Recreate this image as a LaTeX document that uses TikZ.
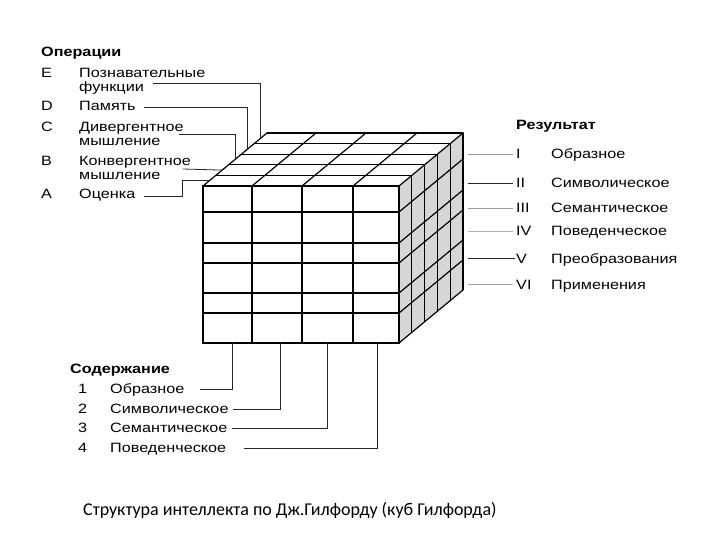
\documentclass[tikz,border=0pt]{standalone}
\usepackage{fontspec}
\setmainfont{Liberation Sans}[FakeStretch=1.2]
\newfontfamily\capfont{Carlito}
\usepackage{xcolor}
\usepackage{tikz}
\definecolor{cubeGray}{HTML}{D6D6D6}
\definecolor{leadGray}{HTML}{9C9C9C}
\usetikzlibrary{calc}

\begin{document}
\begin{tikzpicture}[x=1pt, y=-1pt,
  lbl/.style={anchor=base west, inner sep=0pt, font=\fontsize{13.5}{15}\selectfont},
  hdr/.style={lbl, font=\fontsize{13.5}{15}\selectfont\bfseries},
  edge/.style={line width=1.2pt, line cap=round},
  lead/.style={line width=0.8pt, black!85},
  glead/.style={line width=0.8pt, leadGray}]
\useasboundingbox (0,0) rectangle (720,540);

% cube corners
\coordinate (ftl) at (203,186);
\coordinate (btl) at (267,133);
% right face, grey
\fill[cubeGray] (399,186) -- (463,133) -- (463,290) -- (399,343) -- cycle;
% front face
\draw[edge] (ftl) rectangle (399,343);
\foreach \x in {252,302,353} \draw[edge] (\x,186) -- (\x,343);
\foreach \y in {212,243,263,293,313} \draw[edge] (203,\y) -- (399,\y);
% top face
\foreach \k in {1,...,5} \draw[edge] (203+12.8*\k,186-10.6*\k) -- (399+12.8*\k,186-10.6*\k);
\foreach \x in {203,252,302,353,399} \draw[edge] (\x,186) -- (\x+64,133);
% right face
\foreach \k in {1,...,5} \draw[edge] (399+12.8*\k,186-10.6*\k) -- (399+12.8*\k,343-10.6*\k);
\foreach \y in {212,243,263,293,313,343} \draw[edge] (399,\y) -- (463,\y-53);

% leader ends on the cube
\coordinate (lA) at ($(ftl)!.1!(btl)$);
\coordinate (lB) at ($(ftl)!.3!(btl)$);
\coordinate (lC) at ($(ftl)!.5!(btl)$);
\coordinate (lD) at ($(ftl)!.7!(btl)$);
\coordinate (lE) at ($(ftl)!.9!(btl)$);
\coordinate (b1) at (232,343);
\coordinate (b2) at (280,343);
\coordinate (b3) at (327,343);
\coordinate (b4) at (377,343);

% operations
\node[hdr] (opH) at (41,57) {Операции};
\node[lbl] (kE) at (41,78) {E};
\node[lbl] (opE) at (79,78) {Познавательные};
\node[lbl] (opE2) at (79,92) {функции};
\node[lbl] (kD) at (41,111) {D};
\node[lbl] (opD) at (79,111) {Память};
\node[lbl] (kC) at (41,132) {C};
\node[lbl] (opC) at (79,132) {Дивергентное};
\node[lbl] (opC2) at (79,146) {мышление};
\node[lbl] (kB) at (41,166) {B};
\node[lbl] (opB) at (79,166) {Конвергентное};
\node[lbl] (opB2) at (79,180) {мышление};
\node[lbl] (kA) at (41,199) {A};
\node[lbl] (opA) at (79,199) {Оценка};
\draw[lead] ([xshift=9pt,yshift=9pt]opE2.base east) -| (lE);
\draw[lead] ([xshift=8pt,yshift=4pt]opD.base east) -| (lD);
\draw[lead] ([xshift=18pt,yshift=12pt]opC2.base east) -| (lC);
\draw[lead] ([xshift=22pt,yshift=11pt]opB2.base east) -- (lB);
\draw[lead] ([xshift=8pt,yshift=3pt]opA.base east) -| ($(lA)+(-27,0)$) -- (lA);

% results
\node[hdr] (reH) at (516,130) {Результат};
\node[lbl] (r1) at (516,159) {I};
\node[lbl] (r2) at (516,188) {II};
\node[lbl] (r3) at (516,213) {III};
\node[lbl] (r4) at (516,236) {IV};
\node[lbl] (r5) at (516,263) {V};
\node[lbl] (r6) at (516,289) {VI};
\node[lbl] (re1) at (551,159) {Образное};
\node[lbl] (re2) at (551,188) {Символическое};
\node[lbl] (re3) at (551,213) {Семантическое};
\node[lbl] (re4) at (551,236) {Поведенческое};
\node[lbl] (re5) at (551,263) {Преобразования};
\node[lbl] (re6) at (551,289) {Применения};
\draw[glead] ([xshift=-48pt]r1.west) -- ([xshift=-3pt]r1.west);
\draw[lead] ([xshift=-48pt]r2.west) -- ([xshift=-3pt]r2.west);
\draw[glead, line width=1.6pt] ([xshift=-48pt]r3.west) -- ([xshift=-3pt]r3.west);
\draw[glead, black!30] ([xshift=-48pt]r4.west) -- ([xshift=-3pt]r4.west);
\draw[lead] ([xshift=-48pt]r5.west) -- ([xshift=-1pt]r5.west);
\draw[glead, black!35] ([xshift=-48pt]r6.west) -- ([xshift=-3pt]r6.west);

% content
\node[hdr] (coH) at (70,373) {Содержание};
\node[lbl] (c1) at (78,393) {1};
\node[lbl] (c2) at (78,413) {2};
\node[lbl] (c3) at (78,432) {3};
\node[lbl] (c4) at (78,452) {4};
\node[lbl] (co1) at (110,393) {Образное};
\node[lbl] (co2) at (110,413) {Символическое};
\node[lbl] (co3) at (110,432) {Семантическое};
\node[lbl] (co4) at (110,452) {Поведенческое};
\draw[lead] ([xshift=15pt,yshift=4pt]co1.base east) -| (b1);
\draw[lead] ([xshift=4pt,yshift=4pt]co2.base east) -| (b2);
\draw[lead] ([xshift=4pt,yshift=4pt]co3.base east) -| (b3);
\draw[lead] ([xshift=18pt,yshift=4pt]co4.base east) -| (b4);

% caption
\node[anchor=base west, inner sep=0pt, font=\capfont\fontsize{18}{20}\selectfont] (cap) at (83,515)
  {Структура интеллекта по Дж.Гилфорду (куб Гилфорда)};
\end{tikzpicture}
\end{document}
